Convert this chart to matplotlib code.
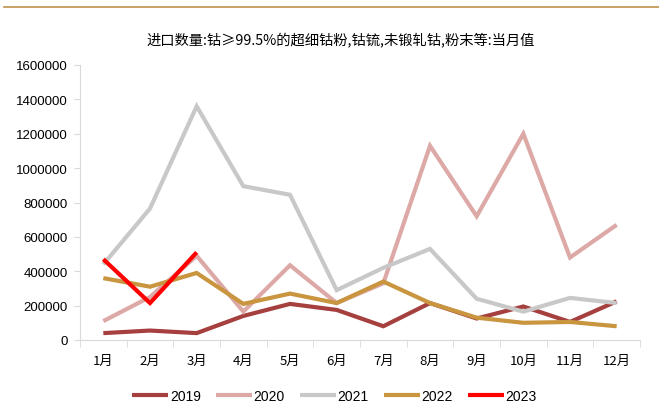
import matplotlib
matplotlib.use("Agg")
import matplotlib.pyplot as plt
from matplotlib.lines import Line2D

plt.rcParams['font.family'] = ['Liberation Sans', 'Noto Sans CJK SC', 'DejaVu Sans']

months = ['1月', '2月', '3月', '4月', '5月', '6月', '7月', '8月', '9月', '10月', '11月', '12月']
y2019 = [40000, 55000, 40000, 140000, 210000, 175000, 80000, 215000, 125000, 195000, 105000, 225000]
y2020 = [110000, 250000, 490000, 165000, 435000, 215000, 330000, 1130000, 720000, 1200000, 480000, 670000]
y2021 = [440000, 765000, 1360000, 895000, 845000, 290000, 420000, 530000, 240000, 165000, 245000, 215000]
y2022 = [360000, 310000, 390000, 210000, 270000, 215000, 340000, 215000, 130000, 100000, 105000, 80000]
y2023 = [470000, 215000, 510000]

series = [
    ('2019', y2019, '#A5403E'),
    ('2020', y2020, '#DCA9A7'),
    ('2021', y2021, '#C8C8C8'),
    ('2022', y2022, '#C9953F'),
    ('2023', y2023, '#FF0000'),
]

fig = plt.figure(figsize=(6.59, 4.10), dpi=100)
ax = fig.add_axes([80 / 659, 1 - 341 / 410, 560 / 659, 275 / 410])

x = list(range(len(months)))
for name, vals, color in series:
    ax.plot(x[:len(vals)], vals, color=color, lw=3, label=name,
            solid_capstyle='butt', solid_joinstyle='miter')

ax.set_xlim(-0.5, 11.5)
ax.set_ylim(0, 1600000)
ax.set_yticks(range(0, 1600001, 200000))
ax.set_yticklabels([str(v) for v in range(0, 1600001, 200000)], fontsize=9.5)
ax.set_xticks(x)
ax.set_xticklabels(months, fontsize=9.5, family=['Noto Sans CJK SC'])
ax.set_xticks([i - 0.5 for i in range(13)], minor=True)
ax.tick_params(axis='x', which='major', length=0, pad=10)
ax.tick_params(axis='x', which='minor', length=5, color='#D9D9D9')
ax.tick_params(axis='y', length=4, color='#D9D9D9', pad=5)

for s in ['top', 'right']:
    ax.spines[s].set_visible(False)
ax.spines['left'].set_color('#D9D9D9')
ax.spines['bottom'].set_color('#D9D9D9')

fig.text(341 / 659, 1 - 41 / 410, '进口数量:钴≥99.5%的超细钴粉,钴锍,未锻轧钴,粉末等:当月值',
         ha='center', va='center', fontsize=10.3, family=['Noto Sans CJK SC', 'DejaVu Sans'])

fig.legend(*ax.get_legend_handles_labels(), loc='center', bbox_to_anchor=(334.5 / 659, 1 - 397 / 410),
           ncol=5, frameon=False, fontsize=10, handlelength=2.6, columnspacing=1.1,
           handletextpad=0.1, borderaxespad=0, borderpad=0)

fig.add_artist(Line2D([4 / 659, 1], [1 - 7.5 / 410, 1 - 7.5 / 410], color='#C0914A', lw=1.2))

fig.savefig('out.png', dpi=100)
